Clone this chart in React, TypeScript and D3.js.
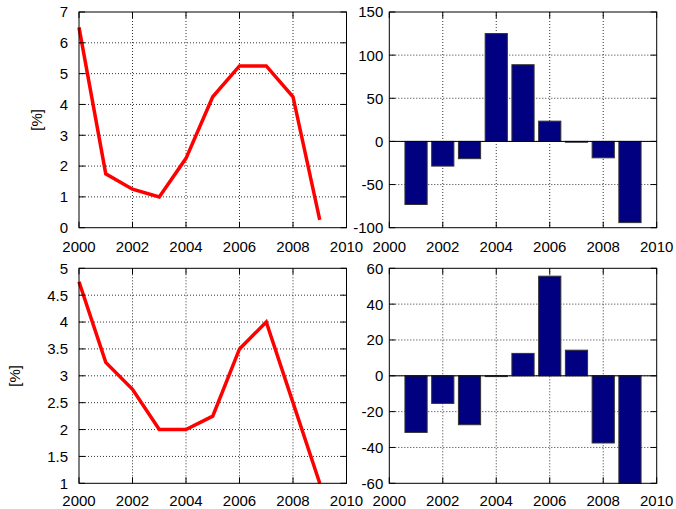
import React from "react";
import * as d3 from "d3";

const years = [2000, 2001, 2002, 2003, 2004, 2005, 2006, 2007, 2008, 2009];
const rateTop = [6.5, 1.75, 1.25, 1.0, 2.25, 4.25, 5.25, 5.25, 4.25, 0.25];
const rateBottom = [4.75, 3.25, 2.75, 2.0, 2.0, 2.25, 3.5, 4.0, 2.5, 1.0];
const barYears = [2001, 2002, 2003, 2004, 2005, 2006, 2007, 2008, 2009];
const changeTop = [-73.1, -28.6, -20.0, 125.0, 88.9, 23.5, 0, -19.0, -94.1];
const changeBottom = [-31.6, -15.4, -27.3, 0, 12.5, 55.6, 14.3, -37.5, -60.0];

const xTicks = [2000, 2002, 2004, 2006, 2008, 2010];
const yTicksTL = [0, 1, 2, 3, 4, 5, 6, 7];
const yTicksTR = [-100, -50, 0, 50, 100, 150];
const yTicksBL = [1, 1.5, 2, 2.5, 3, 3.5, 4, 4.5, 5];
const yTicksBR = [-60, -40, -20, 0, 20, 40, 60];

const FONT = "'Liberation Sans', Arial, Helvetica, sans-serif";
const FS = 15;

type Box = { x0: number; x1: number; y0: number; y1: number };

function Frame({ box, yTicks, yDomain, labelRight, ylabelX, xLabelOffset, children }: any) {
  const xs = d3.scaleLinear().domain([2000, 2010]).range([box.x0, box.x1]);
  const ys = d3.scaleLinear().domain(yDomain).range([box.y1, box.y0]);
  const tl = 6;
  return (
    <g>
      {xTicks.slice(1, -1).map((t) => (
        <line key={"gx" + t} x1={xs(t)} x2={xs(t)} y1={box.y0} y2={box.y1} stroke="#333" strokeWidth={1} strokeDasharray="1,2" />
      ))}
      {yTicks.slice(1, -1).map((t: number) => (
        <line key={"gy" + t} x1={box.x0} x2={box.x1} y1={ys(t)} y2={ys(t)} stroke="#333" strokeWidth={1} strokeDasharray="1,2" />
      ))}
      {children(xs, ys)}
      {xTicks.map((t) => (
        <g key={"tx" + t}>
          <line x1={xs(t)} x2={xs(t)} y1={box.y1} y2={box.y1 - tl} stroke="#000" />
          <line x1={xs(t)} x2={xs(t)} y1={box.y0} y2={box.y0 + tl} stroke="#000" />
          <text x={xs(t)} y={box.y1 + xLabelOffset} textAnchor="middle" fontSize={FS} fontFamily={FONT} fill="#000">{t}</text>
        </g>
      ))}
      {yTicks.map((t: number) => (
        <g key={"ty" + t}>
          <line x1={box.x0} x2={box.x0 + tl} y1={ys(t)} y2={ys(t)} stroke="#000" />
          <line x1={box.x1} x2={box.x1 - tl} y1={ys(t)} y2={ys(t)} stroke="#000" />
          <text x={labelRight} y={ys(t)} dy="0.36em" textAnchor="end" fontSize={FS} fontFamily={FONT} fill="#000">{t}</text>
        </g>
      ))}
      <rect x={box.x0} y={box.y0} width={box.x1 - box.x0} height={box.y1 - box.y0} fill="none" stroke="#000" strokeWidth={1} />
      {ylabelX != null && (
        <text transform={`translate(${ylabelX},${(box.y0 + box.y1) / 2}) rotate(-90)`} dy="0.36em" textAnchor="middle" fontSize={FS} fontFamily={FONT} fill="#000">[%]</text>
      )}
    </g>
  );
}

function LinePanel({ box, values, yTicks, yDomain, ylabelX, xLabelOffset }: any) {
  return (
    <Frame box={box} yTicks={yTicks} yDomain={yDomain} labelRight={box.x0 - 11} ylabelX={ylabelX} xLabelOffset={xLabelOffset}>
      {(xs: any, ys: any) => {
        const line = d3.line<number>().x((_, i) => xs(years[i])).y((v) => ys(v));
        return <path d={line(values) || ""} fill="none" stroke="#ff0000" strokeWidth={3.5} />;
      }}
    </Frame>
  );
}

function BarPanel({ box, values, yTicks, yDomain, xLabelOffset }: any) {
  return (
    <Frame box={box} yTicks={yTicks} yDomain={yDomain} labelRight={box.x0 - 6} ylabelX={null} xLabelOffset={xLabelOffset}>
      {(xs: any, ys: any) => {
        const bw = (xs(2001) - xs(2000)) * 0.83;
        return (
          <g>
            {values.map((v: number, i: number) => {
              const cx = xs(barYears[i]);
              const yTop = ys(Math.max(v, 0));
              const yBot = ys(Math.min(v, 0));
              return (
                <rect key={i} x={cx - bw / 2} y={yTop} width={bw} height={Math.max(yBot - yTop, 0.8)} fill="#000080" stroke="#333" strokeWidth={1} />
              );
            })}
            <line x1={box.x0} x2={box.x1} y1={ys(0)} y2={ys(0)} stroke="#000" strokeWidth={1} />
          </g>
        );
      }}
    </Frame>
  );
}

export default function App() {
  const TL: Box = { x0: 79, x1: 346.5, y0: 12, y1: 227.7 };
  const TR: Box = { x0: 389.3, x1: 656.7, y0: 12, y1: 227.7 };
  const BL: Box = { x0: 79, x1: 346.5, y0: 268.3, y1: 483.3 };
  const BR: Box = { x0: 389.3, x1: 656.7, y0: 268.3, y1: 483.3 };
  return (
    <svg width={676} height={509} style={{ position: "absolute", left: 0, top: 0, background: "#fff" }}>
      <rect x={0} y={0} width={676} height={509} fill="#fff" />
      <LinePanel box={TL} values={rateTop} yTicks={yTicksTL} yDomain={[0, 7]} ylabelX={37} xLabelOffset={24.5} />
      <BarPanel box={TR} values={changeTop} yTicks={yTicksTR} yDomain={[-100, 150]} xLabelOffset={24.5} />
      <LinePanel box={BL} values={rateBottom} yTicks={yTicksBL} yDomain={[1, 5]} ylabelX={14.5} xLabelOffset={23} />
      <BarPanel box={BR} values={changeBottom} yTicks={yTicksBR} yDomain={[-60, 60]} xLabelOffset={23} />
    </svg>
  );
}
